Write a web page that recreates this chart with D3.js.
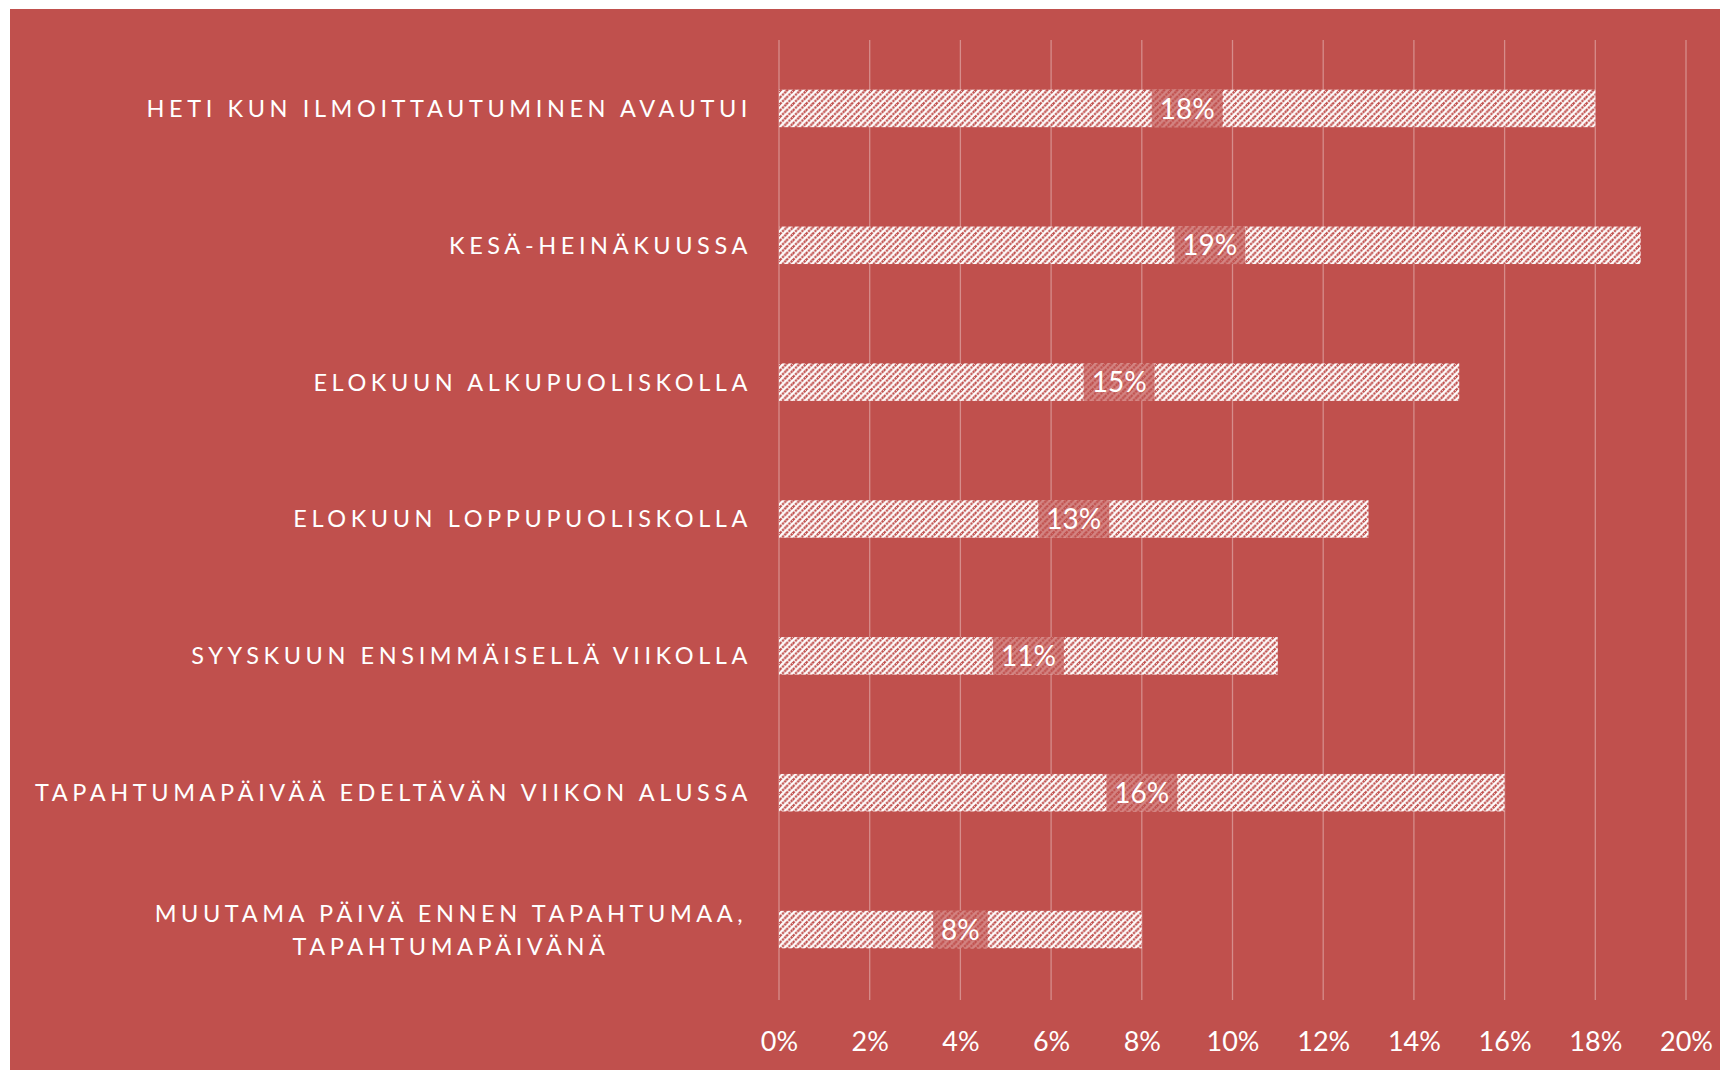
<!DOCTYPE html>
<html>
<head>
<meta charset="utf-8">
<script src="https://cdn.jsdelivr.net/npm/d3@7"></script>
<style>
  html, body { margin: 0; padding: 0; background: #ffffff; }
  svg { display: block; }
</style>
</head>
<body>
<svg id="chart" width="1720" height="1070"></svg>
<script>
const categories = [
  ["HETI KUN ILMOITTAUTUMINEN AVAUTUI"],
  ["KESÄ-HEINÄKUUSSA"],
  ["ELOKUUN ALKUPUOLISKOLLA"],
  ["ELOKUUN LOPPUPUOLISKOLLA"],
  ["SYYSKUUN ENSIMMÄISELLÄ VIIKOLLA"],
  ["TAPAHTUMAPÄIVÄÄ EDELTÄVÄN VIIKON ALUSSA"],
  ["MUUTAMA PÄIVÄ ENNEN TAPAHTUMAA,", "TAPAHTUMAPÄIVÄNÄ"]
];
const values = [0.18, 0.19, 0.15, 0.13, 0.11, 0.16, 0.08];
const tickValues = [0, 0.02, 0.04, 0.06, 0.08, 0.10, 0.12, 0.14, 0.16, 0.18, 0.20];

const RED = "#C0504D";
const FONT = "Lato, 'Open Sans', sans-serif";
const svg = d3.select("#chart");

// background
svg.append("rect").attr("x", 10).attr("y", 9).attr("width", 1710).attr("height", 1061).attr("fill", RED);

// pattern
const defs = svg.append("defs");
const P = 6.5;
const pat = defs.append("pattern").attr("id", "hatch").attr("patternUnits", "userSpaceOnUse")
  .attr("width", P).attr("height", P);
pat.append("rect").attr("width", P).attr("height", P).attr("fill", "#ffffff");
pat.append("path").attr("d", `M-1,1 L1,-1 M0,${P} L${P},0 M${P-1},${P+1} L${P+1},${P-1}`)
  .attr("stroke", RED).attr("stroke-width", 2.3).attr("stroke-dasharray", "2.2,0.9");

const x = d3.scaleLinear().domain([0, 0.20]).range([779, 1686]);
const idx = d3.range(values.length);
const y = d3.scaleBand().domain(idx).range([40, 998]).paddingInner(0.726).paddingOuter(0.363);

// gridlines
svg.append("g").selectAll("line").data(tickValues).join("line")
  .attr("x1", d => x(d)).attr("x2", d => x(d))
  .attr("y1", 40).attr("y2", 1000)
  .attr("stroke", "rgba(255,255,255,0.35)").attr("stroke-width", 1.3);

// x axis labels
const xAxis = d3.axisBottom(x).tickValues(tickValues).tickFormat(d3.format(".0%")).tickSize(0).tickPadding(0);
const ax = svg.append("g").attr("transform", "translate(0,1032)").call(xAxis);
ax.select(".domain").remove();
ax.selectAll("text").attr("fill", "#ffffff").attr("font-family", FONT)
  .attr("font-size", 27).attr("dy", "0.72em").attr("y", 0);

// bars
svg.append("g").selectAll("rect").data(values).join("rect")
  .attr("x", x(0)).attr("y", (d, i) => y(i))
  .attr("width", d => x(d) - x(0)).attr("height", y.bandwidth())
  .attr("fill", "url(#hatch)");

// data label boxes
const lab = svg.append("g").selectAll("g").data(values).join("g")
  .attr("transform", (d, i) => `translate(${(x(d) + x(0)) / 2},${y(i) + y.bandwidth() / 2})`);
const boxes = lab.append("rect").attr("y", -y.bandwidth() / 2).attr("height", y.bandwidth())
  .attr("fill", RED).attr("fill-opacity", 0.7);
const lt = lab.append("text").text(d => d3.format(".0%")(d))
  .attr("text-anchor", "middle").attr("dy", "0.36em")
  .attr("fill", "#ffffff").attr("font-family", FONT).attr("font-size", 28);
lt.each(function(d, i) {
  const w = this.getComputedTextLength() + 16;
  d3.select(boxes.nodes()[i]).attr("x", -w / 2).attr("width", w);
});

// category labels
const cat = svg.append("g").selectAll("text").data(categories).join("text")
  .attr("fill", "#ffffff").attr("font-family", FONT)
  .attr("font-size", 23.5).attr("letter-spacing", 4.6)
  .attr("text-anchor", d => d.length > 1 ? "middle" : "end");
cat.each(function(d, i) {
  const t = d3.select(this);
  const cy = y(i) + y.bandwidth() / 2;
  if (d.length === 1) {
    t.append("tspan").attr("x", 752).attr("y", cy).attr("dy", "0.36em").text(d[0]);
  } else {
    d.forEach((line, j) => {
      t.append("tspan").attr("x", 451).attr("y", cy + (j - (d.length - 1) / 2) * 33)
        .attr("dy", "0.36em").text(line);
    });
  }
});
</script>
</body>
</html>
